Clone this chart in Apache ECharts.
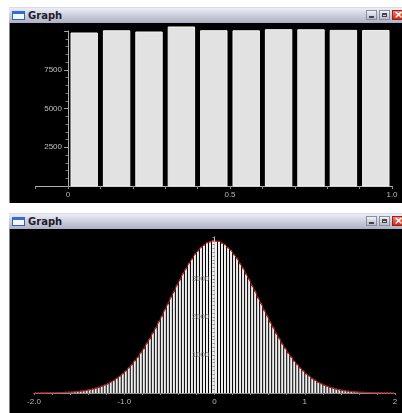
<!DOCTYPE html>
<html><head><meta charset="utf-8">
<script src="https://cdn.jsdelivr.net/npm/echarts@6/dist/echarts.min.js"></script>
<style>
html,body{margin:0;padding:0;background:#fff;overflow:hidden;}
#stage{position:relative;width:402px;height:413px;}
.title{position:absolute;left:9px;width:393px;height:16px;background:linear-gradient(#eceef6,#cfd1de 45%,#aeb0c6);border-top:1px solid #d8dae6;box-sizing:border-box;}
.black{position:absolute;left:9px;width:393px;background:#000;border-left:1px solid #7a7e96;box-sizing:border-box;}
.icon{position:absolute;left:3px;top:3px;width:13px;height:9px;border:1px solid #2f5fc0;border-top:3px solid #3a6ad8;background:#f4f8ff;box-sizing:border-box;}
.ttext{position:absolute;left:19px;top:1px;font:bold 10px "DejaVu Sans",sans-serif;color:#1c1c2c;line-height:13px;}
.btn{position:absolute;top:2px;width:11px;height:10px;border:1px solid #8a8ea4;background:linear-gradient(#f2f2f6,#b8bac8);box-sizing:border-box;}
.btn.min::after{content:"";position:absolute;left:2px;top:5px;width:5px;height:2px;background:#444;}
.btn.max::after{content:"";position:absolute;left:2px;top:2px;width:5px;height:4px;border:1px solid #444;border-top-width:2px;box-sizing:border-box;}
.btn.cls{background:linear-gradient(#f08070,#d02818);border-color:#a02010;}
.btn.cls::after{content:"\00d7";position:absolute;left:1px;top:-3px;color:#fff;font:bold 11px "DejaVu Sans",sans-serif;}
#c{position:absolute;left:0;top:0;width:402px;height:413px;}
</style>
</head><body>
<div id="stage">
  <div class="title" style="top:7px;"><div class="icon"></div><div class="ttext">Graph</div>
    <div class="btn min" style="left:357px;"></div><div class="btn max" style="left:370px;"></div><div class="btn cls" style="left:383px;"></div></div>
  <div class="black" style="top:23px;height:180px;"></div>
  <div class="title" style="top:213px;"><div class="icon"></div><div class="ttext">Graph</div>
    <div class="btn min" style="left:357px;"></div><div class="btn max" style="left:370px;"></div><div class="btn cls" style="left:383px;"></div></div>
  <div class="black" style="top:229px;height:184px;"></div>
  <div id="c"></div>
</div>
<script>
// ---- Top graph: uniform histogram ----
const uniformRange = [0, 1];
const uniformCounts = [9870, 10015, 9935, 10260, 10020, 10015, 10085, 10080, 10040, 10035];
const uniformXTickValues = [0, 0.5, 1];
const uniformXTickLabels = ['0', '0.5', '1.0'];
const uniformYTickValues = [2500, 5000, 7500];
const uniformYTickLabels = ['2500', '5000', '7500'];

// ---- Bottom graph: normal histogram ----
const normalRange = [-2, 2];
const normalCounts = [
  2, 1, 3, 3, 4, 6, 7, 9, 12, 14,
  17, 22, 26, 34, 41, 50, 59, 73, 88, 104,
  127, 147, 176, 209, 241, 286, 328, 385, 440, 509,
  575, 662, 743, 846, 938, 1060, 1165, 1306, 1425, 1578,
  1712, 1876, 2019, 2190, 2338, 2516, 2660, 2834, 2974, 3139,
  3266, 3410, 3522, 3650, 3733, 3830, 3886, 3952, 3972, 4006,
  3990, 3987, 3938, 3900, 3817, 3748, 3635, 3538, 3398, 3281,
  3124, 2989, 2820, 2676, 2500, 2352, 2177, 2032, 1862, 1725,
  1566, 1438, 1292, 1178, 1048, 948, 835, 750, 653, 582,
  501, 445, 378, 333, 280, 246, 204, 178, 146, 127,
  103, 88, 70, 61, 48, 41, 32, 28, 20, 18,
  13, 11, 8, 7, 5, 4, 3, 2, 2, 1
];
const normalXTickValues = [-2, -1, 0, 1, 2];
const normalXTickLabels = ['-2.0', '-1.0', '0', '1', '2'];
const normalYTickValues = [1000, 2000, 3000];
const normalYTickLabels = ['1000', '2000', '3000'];

function bins(range, counts) {
  const w = (range[1] - range[0]) / counts.length;
  return counts.map((c, i) => [range[0] + i * w, range[0] + (i + 1) * w, c]);
}
function centers(range, counts) {
  const w = (range[1] - range[0]) / counts.length;
  return counts.map((c, i) => [range[0] + (i + 0.5) * w, c]);
}
function labelFmt(vals, labels) {
  return function (v) {
    const i = vals.findIndex(t => Math.abs(t - v) < 1e-6);
    return i >= 0 ? labels[i] : '';
  };
}
function histRender(inset, fill, stroke) {
  return function (params, api) {
    const a = api.coord([api.value(0), api.value(2)]);
    const b = api.coord([api.value(1), 0]);
    return {
      type: 'rect',
      shape: { x: a[0] + inset, y: a[1], width: Math.max(b[0] - a[0] - 2 * inset, 0.5), height: b[1] - a[1] },
      style: { fill: fill, stroke: stroke, lineWidth: stroke ? 1 : 0 }
    };
  };
}

const labelFont = { fontFamily: 'Liberation Sans', fontSize: 8 };
const hiddenAxis = { show: false, axisLine: { show: false }, axisTick: { show: false }, axisLabel: { show: false }, splitLine: { show: false } };

// x pixel of 0: top 35.6 + 0.1*324 = 68 ; bottom 34 + 2*90.25 = 214.5
const chart = echarts.init(document.getElementById('c'), null, { renderer: 'canvas' });
chart.setOption({
  animation: false,
  backgroundColor: 'transparent',
  grid: [
    { left: 35.6, top: 31, width: 356.4, height: 155 },   // 0: top data grid
    { left: 68, top: 31, width: 324, height: 155 },       // 1: top y-axis overlay
    { left: 34, top: 237, width: 361, height: 156 },      // 2: bottom data grid
    { left: 214.5, top: 237, width: 180.5, height: 156 }  // 3: bottom y-axis overlay
  ],
  xAxis: [
    {
      gridIndex: 0, type: 'value', min: -0.1, max: 1.0, interval: 0.1,
      axisLine: { onZero: false, lineStyle: { color: '#b0b0b0', width: 1 } },
      axisTick: { show: true, length: 3, lineStyle: { color: '#909090' } },
      splitLine: { show: false },
      axisLabel: Object.assign({ color: '#b8b8b8', margin: 5, formatter: labelFmt(uniformXTickValues, uniformXTickLabels) }, labelFont)
    },
    Object.assign({ gridIndex: 1, type: 'value', min: 0, max: 1 }, hiddenAxis),
    {
      gridIndex: 2, type: 'value', min: -2, max: 2, interval: 0.2,
      axisLine: { onZero: false, lineStyle: { color: '#909090', width: 1 } },
      axisTick: { show: true, length: 2, lineStyle: { color: '#808080' } },
      splitLine: { show: false },
      axisLabel: Object.assign({ color: '#b8b8b8', margin: 5, formatter: labelFmt(normalXTickValues, normalXTickLabels) }, labelFont)
    },
    Object.assign({ gridIndex: 3, type: 'value', min: 0, max: 2 }, hiddenAxis)
  ],
  yAxis: [
    Object.assign({ gridIndex: 0, type: 'value', min: 0, max: 10000 }, hiddenAxis),
    {
      gridIndex: 1, type: 'value', min: 0, max: 10000, interval: 2500,
      axisLine: { show: true, onZero: false, lineStyle: { color: '#b0b0b0', width: 1 } },
      axisTick: { show: true, length: 4, lineStyle: { color: '#a0a0a0' } },
      minorTick: { show: true, splitNumber: 5, length: 2.5, lineStyle: { color: '#808080' } },
      splitLine: { show: false },
      axisLabel: Object.assign({ color: '#c0c0c0', margin: 6, formatter: labelFmt(uniformYTickValues, uniformYTickLabels) }, labelFont)
    },
    Object.assign({ gridIndex: 2, type: 'value', min: 0, max: 4100 }, hiddenAxis),
    {
      gridIndex: 3, type: 'value', min: 0, max: 4100, interval: 1000, zlevel: 1, z: 5,
      axisLine: { show: true, onZero: false, lineStyle: { color: '#c8c8c8', width: 1 } },
      axisTick: { show: true, length: 2, lineStyle: { color: '#808080' } },
      minorTick: { show: true, splitNumber: 10, length: 2, lineStyle: { color: '#8a8a8a' } },
      splitLine: { show: false },
      axisLabel: Object.assign({ color: '#7a7a7a', margin: 5, formatter: labelFmt(normalYTickValues, normalYTickLabels) }, labelFont)
    }
  ],
  series: [
    {
      type: 'custom', xAxisIndex: 0, yAxisIndex: 0, z: 2,
      data: bins(uniformRange, uniformCounts),
      encode: { x: [0, 1], y: 2 },
      renderItem: histRender(3, '#e2e2e2', '#f2f2f2')
    },
    {
      type: 'custom', xAxisIndex: 2, yAxisIndex: 2, z: 2,
      data: bins(normalRange, normalCounts),
      encode: { x: [0, 1], y: 2 },
      renderItem: histRender(0.5, '#eeeeee', null)
    },
    {
      type: 'line', xAxisIndex: 2, yAxisIndex: 2, z: 3,
      data: centers(normalRange, normalCounts),
      symbol: 'circle', symbolSize: 1.6, showSymbol: true,
      itemStyle: { color: '#d02020' },
      lineStyle: { color: '#a81818', width: 1 }
    }
  ]
});
</script>
</body></html>
